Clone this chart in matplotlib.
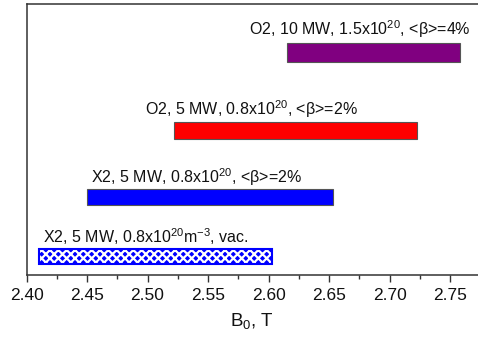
import numpy as np
import matplotlib
matplotlib.use("Agg")
import matplotlib.pyplot as plt
from matplotlib.ticker import MultipleLocator, NullLocator

plt.rcParams['font.family'] = ['Liberation Sans', 'DejaVu Sans']
plt.rcParams['mathtext.fontset'] = 'custom'
plt.rcParams['mathtext.rm'] = 'Liberation Sans'
plt.rcParams['mathtext.it'] = 'Liberation Sans'
plt.rcParams['hatch.linewidth'] = 1.6

# Data: B0 ranges for each scenario (bottom to top)
labels = [r"X2, 5 MW, 0.8x10$^{20}$m$^{-3}$, vac.",
          r"X2, 5 MW, 0.8x10$^{20}$, <β>=2%",
          r"O2, 5 MW, 0.8x10$^{20}$, <β>=2%",
          r"O2, 10 MW, 1.5x10$^{20}$, <β>=4%"]
b_start = [2.410, 2.450, 2.522, 2.615]
b_end   = [2.603, 2.653, 2.723, 2.758]
label_x = [2.414, 2.453, 2.498, 2.584]
colors  = ["#0000ff", "#0000ff", "#ff0000", "#800080"]
hatched = [True, False, False, False]

# layout (y positions in axis units, axis spans 0..271)
y_pos   = [18.5, 78.0, 144.5, 222.5]
heights = [15, 16, 17, 19]
gaps    = [6, 6, 7, 8]

fig = plt.figure(figsize=(4.78, 3.47), dpi=100)
ax = fig.add_axes([26.5/478, 72/347, 451.5/478, 271/347])

for i in range(len(labels)):
    w = b_end[i] - b_start[i]
    if hatched[i]:
        ax.barh(y_pos[i], w, left=b_start[i], height=heights[i],
                color=colors[i], edgecolor="white", hatch="xxxx", linewidth=0)
        ax.barh(y_pos[i], w, left=b_start[i], height=heights[i],
                fill=False, edgecolor=colors[i], linewidth=1.5)
    else:
        ax.barh(y_pos[i], w, left=b_start[i], height=heights[i],
                color=colors[i], edgecolor="#555555", linewidth=0.8)
    ax.text(label_x[i], y_pos[i] + heights[i]/2 + gaps[i], labels[i],
            fontsize=11.5, color="#111111", ha="left", va="baseline")

ax.set_xlim(2.40, 2.7731)
ax.set_ylim(0, 271)
ax.xaxis.set_major_locator(MultipleLocator(0.05))
ax.xaxis.set_minor_locator(MultipleLocator(0.025))
ax.xaxis.set_major_formatter(matplotlib.ticker.FormatStrFormatter('%.2f'))
ax.yaxis.set_major_locator(NullLocator())
ax.tick_params(axis='x', which='major', direction='out', length=5, width=1,
               labelsize=12.5, pad=4, color="#333333", labelcolor="#111111")
ax.tick_params(axis='x', which='minor', direction='out', length=3, width=1,
               color="#333333")
ax.spines['right'].set_visible(False)
for s in ['left', 'top', 'bottom']:
    ax.spines[s].set_linewidth(1.1)
    ax.spines[s].set_color("#333333")
ax.set_xlabel(r"B$_0$, T", fontsize=13.5, labelpad=6, color="#111111")

fig.savefig("out.png", dpi=100)
